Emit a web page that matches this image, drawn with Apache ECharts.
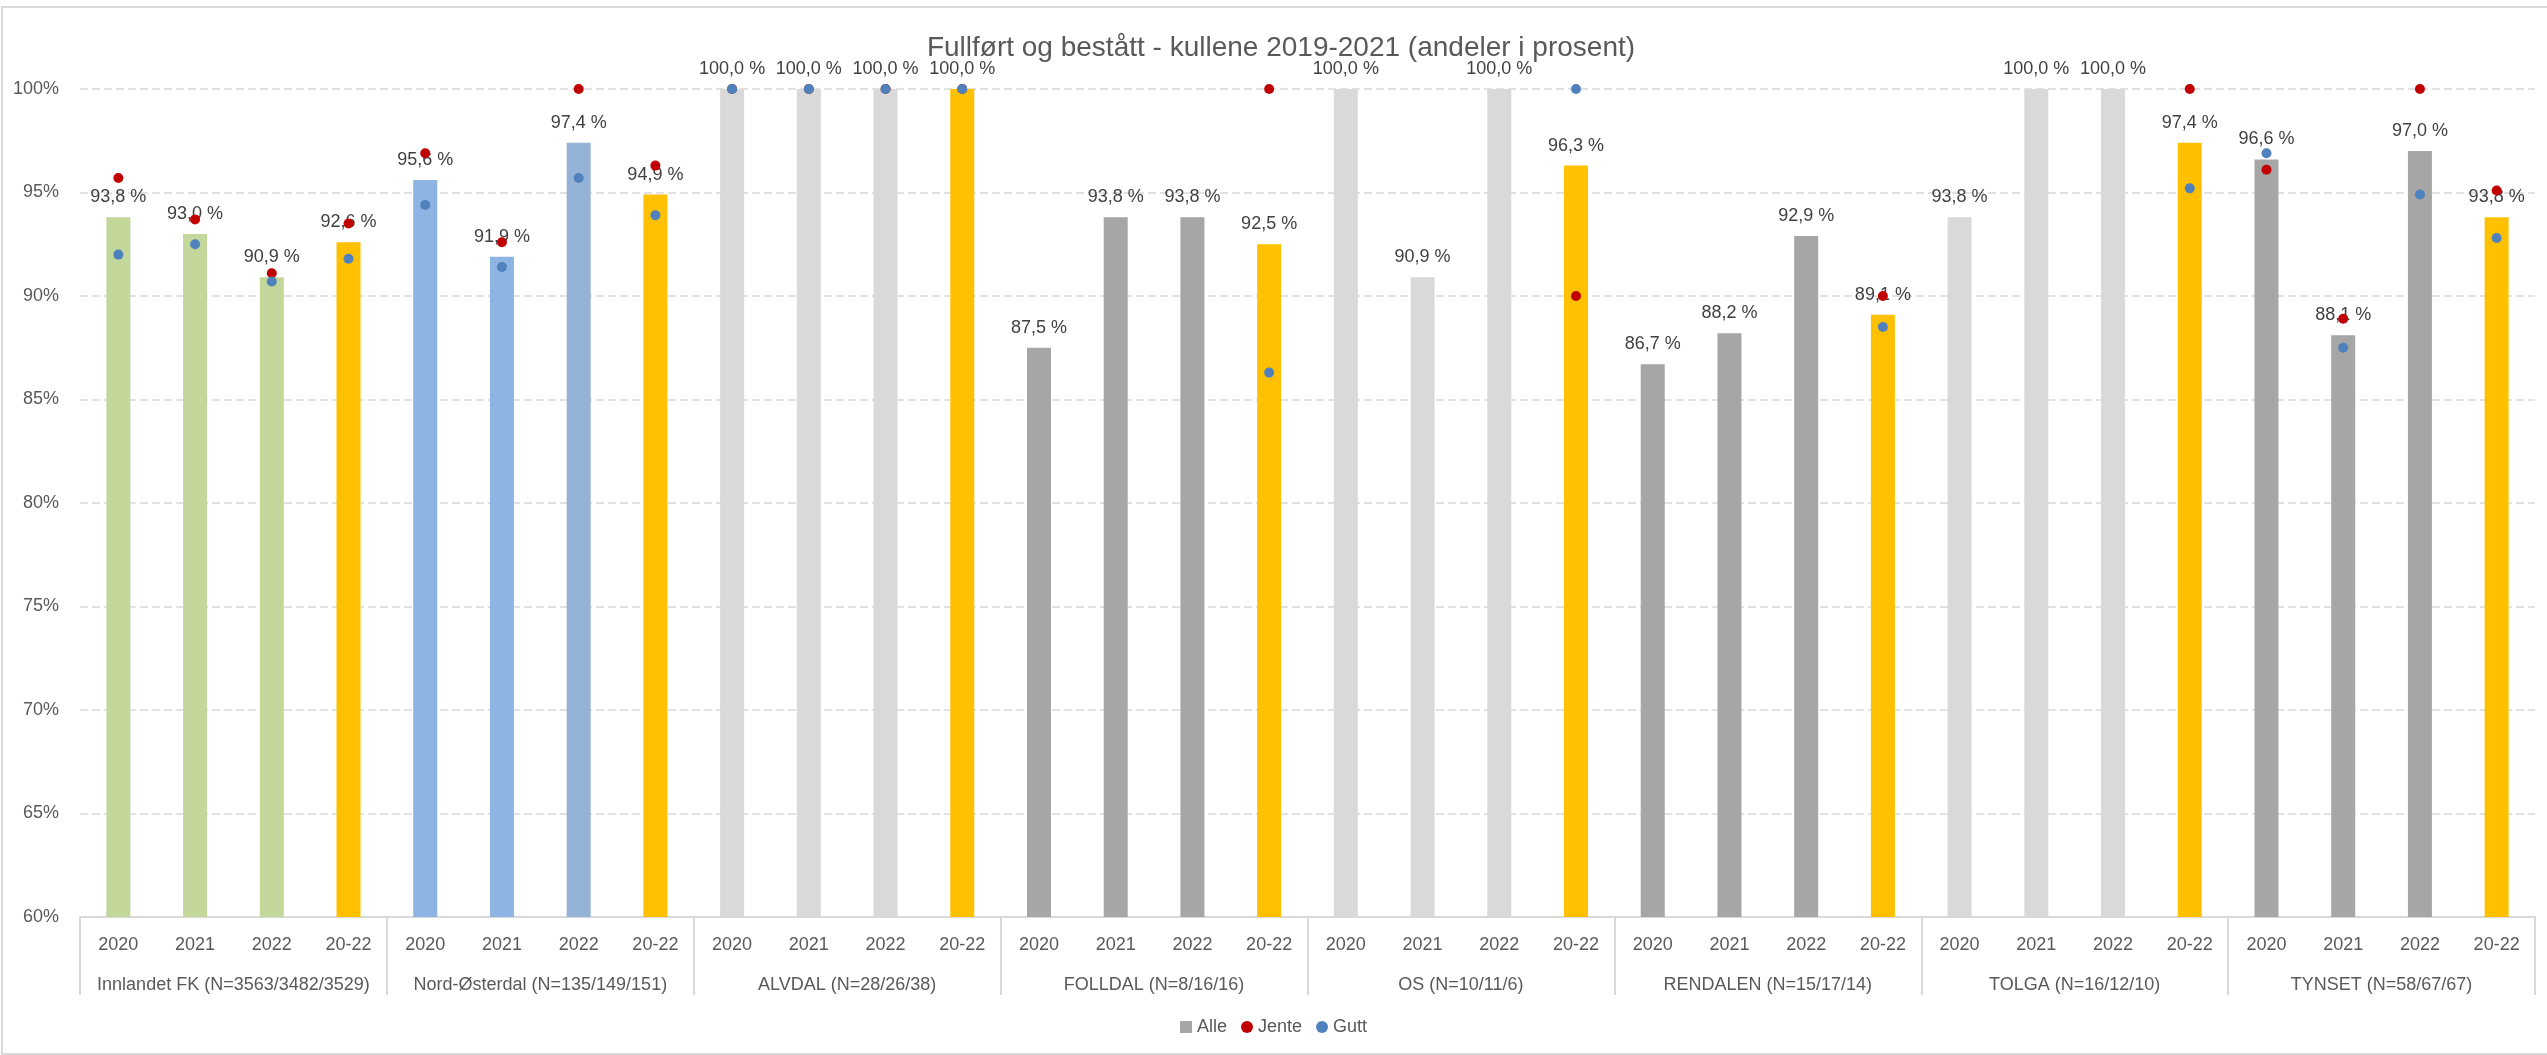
<!DOCTYPE html>
<html>
<head>
<meta charset="utf-8">
<script src="https://cdn.jsdelivr.net/npm/echarts@6/dist/echarts.min.js"></script>
<style>
html,body{margin:0;padding:0;background:#fff;}
#chart{width:2547px;height:1055px;}
</style>
</head>
<body>
<div id="chart"></div>
<script>
var groups = ['Innlandet FK (N=3563/3482/3529)', 'Nord-Østerdal (N=135/149/151)', 'ALVDAL (N=28/26/38)', 'FOLLDAL (N=8/16/16)', 'OS (N=10/11/6)', 'RENDALEN (N=15/17/14)', 'TOLGA (N=16/12/10)', 'TYNSET (N=58/67/67)'];
var periods = ['2020', '2021', '2022', '20-22'];

var alle = [
  93.8, 93.0, 90.9, 92.6,
  95.6, 91.9, 97.4, 94.9,
  100.0, 100.0, 100.0, 100.0,
  87.5, 93.8, 93.8, 92.5,
  100.0, 90.9, 100.0, 96.3,
  86.7, 88.2, 92.9, 89.1,
  93.8, 100.0, 100.0, 97.4,
  96.6, 88.1, 97.0, 93.8
];
var jente = [
  95.7, 93.7, 91.1, 93.5,
  96.9, 92.6, 100.0, 96.3,
  100.0, 100.0, 100.0, 100.0,
  null, null, null, 100.0,
  null, null, null, 90.0,
  null, null, null, 90.0,
  null, null, null, 100.0,
  96.1, 88.9, 100.0, 95.1
];
var gutt = [
  92.0, 92.5, 90.7, 91.8,
  94.4, 91.4, 95.7, 93.9,
  100.0, 100.0, 100.0, 100.0,
  null, null, null, 86.3,
  null, null, null, 100.0,
  null, null, null, 88.5,
  null, null, null, 95.2,
  96.9, 87.5, 94.9, 92.8
];

// styles (kept apart from the data)
var barColors = [
  '#C4D79B', '#C4D79B', '#C4D79B', '#FFC000',
  '#8DB4E2', '#8DB4E2', '#95B3D7', '#FFC000',
  '#D9D9D9', '#D9D9D9', '#D9D9D9', '#FFC000',
  '#A6A6A6', '#A6A6A6', '#A6A6A6', '#FFC000',
  '#D9D9D9', '#D9D9D9', '#D9D9D9', '#FFC000',
  '#A6A6A6', '#A6A6A6', '#A6A6A6', '#FFC000',
  '#D9D9D9', '#D9D9D9', '#D9D9D9', '#FFC000',
  '#A6A6A6', '#A6A6A6', '#A6A6A6', '#FFC000'
];

var FONT = "'Liberation Sans', Arial, sans-serif";
var TXT = '#595959';

var cats = [];
groups.forEach(function () { periods.forEach(function (p) { cats.push(p); }); });

var barData = alle.map(function (v, i) {
  return { value: v, itemStyle: { color: barColors[i] } };
});

function fmt(v) { return v.toFixed(1).replace('.', ',') + ' %'; }

var chart = echarts.init(document.getElementById('chart'), null, { renderer: 'canvas' });
chart.setOption({
  animation: false,
  backgroundColor: '#fff',
  textStyle: { fontFamily: FONT },
  title: {
    text: 'Fullført og bestått - kullene 2019-2021 (andeler i prosent)',
    left: 1276, top: 29, textAlign: 'center',
    textStyle: { fontFamily: FONT, fontSize: 28, fontWeight: 'normal', color: TXT }
  },
  graphic: [{
    type: 'rect', silent: true, z: -10,
    shape: { x: 2, y: 7, width: 2600, height: 1047 },
    style: { fill: 'none', stroke: '#D9D9D9', lineWidth: 2 }
  }],
  legend: {
    data: [
      { name: 'Alle', icon: 'rect' },
      { name: 'Jente', icon: 'circle' },
      { name: 'Gutt', icon: 'circle' }
    ],
    left: 'center', top: 1013,
    itemWidth: 12, itemHeight: 12, itemGap: 14,
    textStyle: { fontFamily: FONT, fontSize: 18, color: TXT }
  },
  grid: { left: 80, right: 12, top: 89, bottom: 138, containLabel: false },
  xAxis: [{
    type: 'category', data: cats, gridIndex: 0, position: 'bottom',
    axisLine: { show: true, lineStyle: { color: '#D9D9D9', width: 2 } },
    axisTick: { show: false },
    axisLabel: { interval: 0, margin: 19, fontFamily: FONT, fontSize: 18, color: TXT },
    splitLine: { show: false }
  }, {
    type: 'category', data: groups, gridIndex: 0, position: 'bottom', offset: 0,
    axisLine: { show: false },
    axisTick: { show: true, length: 78, alignWithLabel: false, lineStyle: { color: '#D9D9D9', width: 2 } },
    axisLabel: { interval: 0, margin: 59, fontFamily: FONT, fontSize: 18, color: TXT },
    splitLine: { show: false }
  }],
  yAxis: {
    type: 'value', min: 60, max: 100, interval: 5,
    axisLine: { show: false }, axisTick: { show: false },
    axisLabel: { formatter: '{value}%', margin: 21, fontFamily: FONT, fontSize: 18, color: TXT },
    splitLine: { show: true, lineStyle: { color: '#D9D9D9', width: 1.5, type: [8, 4] } }
  },
  series: [{
    name: 'Alle', type: 'bar', xAxisIndex: 0, data: barData, barWidth: 24,
    itemStyle: { color: '#A6A6A6' },
    label: {
      show: true, position: 'top', distance: 11,
      formatter: function (p) { return fmt(p.value); },
      fontFamily: FONT, fontSize: 18, color: '#404040'
    },
    z: 2
  }, {
    name: 'Jente', type: 'scatter', xAxisIndex: 0, data: jente,
    symbol: 'circle', symbolSize: 10, itemStyle: { color: '#C00000', opacity: 1 }, z: 3
  }, {
    name: 'Gutt', type: 'scatter', xAxisIndex: 0, data: gutt,
    symbol: 'circle', symbolSize: 10, itemStyle: { color: '#4F81BD', opacity: 1 }, z: 4
  }]
});
</script>
</body>
</html>
